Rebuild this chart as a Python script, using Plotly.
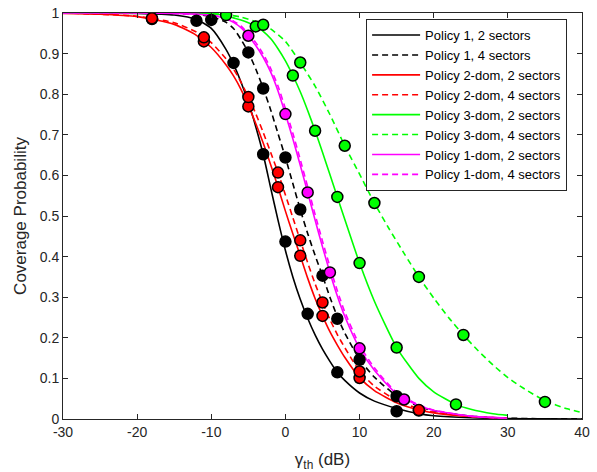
import plotly.graph_objects as go

# ---------------- data ----------------
x_main = [-30, -25, -20, -15, -12, -10, -8, -7, -6, -5, -4, -3, -2, -1, 0, 1, 2, 3, 4, 5,
          6, 7, 8, 10, 12, 15, 18, 20, 25, 30, 35, 40]
p1_2s = [1, 1, 0.999, 0.995, 0.984, 0.962, 0.91, 0.874, 0.83, 0.78, 0.72, 0.652, 0.57, 0.49,
         0.415, 0.35, 0.295, 0.248, 0.207, 0.172, 0.142, 0.115, 0.095, 0.064, 0.044, 0.026,
         0.013, 0.008, 0.003, 0.001, 0.0003, 0.0001]
p1_4s = [1, 1, 1, 0.999, 0.997, 0.991, 0.977, 0.962, 0.935, 0.903, 0.862, 0.815, 0.762, 0.703,
         0.644, 0.58, 0.516, 0.457, 0.403, 0.353, 0.30, 0.252, 0.212, 0.147, 0.103, 0.057,
         0.031, 0.02, 0.007, 0.002, 0.0006, 0.0002]

x_30 = [-30, -25, -20, -15, -12, -10, -8, -7, -6, -5, -4, -3, -2, -1, 0, 1, 2, 3, 4, 5,
        6, 7, 8, 10, 12, 15, 18, 20, 25, 30]
p2_2s = [0.999, 0.997, 0.991, 0.972, 0.945, 0.915, 0.872, 0.845, 0.812, 0.772, 0.728, 0.68,
         0.627, 0.571, 0.512, 0.456, 0.402, 0.347, 0.297, 0.254, 0.215, 0.182, 0.152, 0.102,
         0.07, 0.04, 0.022, 0.015, 0.006, 0.002]
p2_4s = [1, 0.997, 0.992, 0.976, 0.953, 0.927, 0.887, 0.862, 0.83, 0.793, 0.752, 0.706,
         0.657, 0.607, 0.552, 0.496, 0.44, 0.385, 0.333, 0.287, 0.245, 0.208, 0.176, 0.118,
         0.081, 0.046, 0.025, 0.017, 0.006, 0.002]
p1d_2s = [1, 1, 1, 0.999, 0.997, 0.994, 0.986, 0.977, 0.964, 0.944, 0.92, 0.891, 0.855, 0.808,
          0.751, 0.69, 0.625, 0.558, 0.49, 0.424, 0.361, 0.303, 0.253, 0.174, 0.12, 0.062,
          0.033, 0.021, 0.007, 0.002]
p1d_4s = [1, 1, 1, 0.999, 0.997, 0.995, 0.988, 0.98, 0.968, 0.949, 0.927, 0.899, 0.864, 0.82,
          0.764, 0.704, 0.639, 0.572, 0.504, 0.438, 0.375, 0.316, 0.264, 0.182, 0.126, 0.065,
          0.035, 0.022, 0.007, 0.002]

x_g2 = [-30, -20, -15, -12, -10, -8, -7, -6, -5, -4, -3, -2, -1, 0, 1, 2, 3, 4, 5, 6, 7, 8,
        10, 12, 15, 18, 20, 23, 25, 28, 30]
p3_2s = [1, 1, 1, 0.999, 0.998, 0.993, 0.988, 0.983, 0.976, 0.967, 0.955, 0.937, 0.912, 0.882,
         0.846, 0.806, 0.76, 0.71, 0.657, 0.602, 0.547, 0.492, 0.384, 0.29, 0.176, 0.1, 0.067,
         0.036, 0.024, 0.013, 0.009]
x_g4 = [-30, -20, -15, -12, -10, -8, -6, -4, -3, -2, 0, 2, 4, 6, 8, 10, 12, 14, 16, 18, 20,
        22, 24, 26, 28, 30, 32, 35, 38, 40]
p3_4s = [1, 1, 1, 0.999, 0.998, 0.996, 0.99, 0.979, 0.971, 0.961, 0.93, 0.878, 0.82, 0.75,
         0.673, 0.603, 0.532, 0.468, 0.408, 0.35, 0.298, 0.25, 0.207, 0.168, 0.133, 0.102,
         0.077, 0.045, 0.025, 0.016]

# simulation markers
m_p1_2s_x = [-12, -7, -3, 0, 3, 7, 15]
m_p1_2s_y = [0.981, 0.877, 0.652, 0.437, 0.259, 0.115, 0.019]
m_p1_4s_x = [-10, -5, -3, 0, 2, 5, 7, 10, 15]
m_p1_4s_y = [0.983, 0.903, 0.814, 0.644, 0.516, 0.353, 0.247, 0.146, 0.056]
m_p2_2s_x = [-18, -11, -5, -1, 2, 5, 10, 18]
m_p2_2s_y = [0.985, 0.930, 0.770, 0.571, 0.402, 0.254, 0.101, 0.021]
m_p2_4s_x = [-18, -11, -5, -1, 2, 5, 10, 18]
m_p2_4s_y = [0.987, 0.940, 0.793, 0.607, 0.440, 0.287, 0.117, 0.022]
m_p3_2s_x = [-8, -4, 1, 4, 7, 10, 15, 23]
m_p3_2s_y = [0.995, 0.967, 0.846, 0.710, 0.547, 0.384, 0.176, 0.036]
m_p3_4s_x = [-3, 2, 8, 12, 18, 24, 35]
m_p3_4s_y = [0.971, 0.878, 0.673, 0.532, 0.350, 0.207, 0.042]
m_p1d_x = [-5, 0, 3, 6, 10, 16]
m_p1d_y = [0.944, 0.751, 0.558, 0.361, 0.174, 0.048]

names = ["Policy 1, 2 sectors", "Policy 1, 4 sectors", "Policy 2-dom, 2 sectors",
         "Policy 2-dom, 4 sectors", "Policy 3-dom, 2 sectors", "Policy 3-dom, 4 sectors",
         "Policy 1-dom, 2 sectors", "Policy 1-dom, 4 sectors"]

x_tickvals = [-30, -20, -10, 0, 10, 20, 30, 40]
x_ticktext = ["-30", "-20", "-10", "0", "10", "20", "30", "40"]
y_tickvals = [0, 0.1, 0.2, 0.3, 0.4, 0.5, 0.6, 0.7, 0.8, 0.9, 1]
y_ticktext = ["0", "0.1", "0.2", "0.3", "0.4", "0.5", "0.6", "0.7", "0.8", "0.9", "1"]

# ---------------- figure ----------------
BLACK, RED, GREEN, MAG = "#000000", "#ff0000", "#00ff00", "#ff00ff"
DASH = "6px,4px"

fig = go.Figure()
curves = [
    (x_main, p1_2s, BLACK, "solid"),
    (x_main, p1_4s, BLACK, DASH),
    (x_30, p2_2s, RED, "solid"),
    (x_30, p2_4s, RED, DASH),
    (x_g2, p3_2s, GREEN, "solid"),
    (x_g4, p3_4s, GREEN, DASH),
    (x_30, p1d_2s, MAG, "solid"),
    (x_30, p1d_4s, MAG, DASH),
]
for (xs, ys, c, d), nm in zip(curves, names):
    fig.add_trace(go.Scatter(x=xs, y=ys, mode="lines", name=nm,
                             line=dict(color=c, width=1.6, dash=d, shape="spline", smoothing=0.6)))

markers = [
    (m_p1_2s_x, m_p1_2s_y, BLACK),
    (m_p1_4s_x, m_p1_4s_y, BLACK),
    (m_p2_2s_x, m_p2_2s_y, RED),
    (m_p2_4s_x, m_p2_4s_y, RED),
    (m_p3_2s_x, m_p3_2s_y, GREEN),
    (m_p3_4s_x, m_p3_4s_y, GREEN),
    (m_p1d_x, m_p1d_y, MAG),
]
for xs, ys, c in markers:
    fig.add_trace(go.Scatter(x=xs, y=ys, mode="markers", showlegend=False,
                             marker=dict(symbol="circle", size=11, color=c,
                                         line=dict(color="black", width=1.5))))

axis_common = dict(showgrid=False, zeroline=False, showline=True, mirror="ticks",
                   linecolor="#262626", linewidth=1, ticks="inside", ticklen=5,
                   tickcolor="#262626", tickfont=dict(size=14, color="#262626"))

fig.update_layout(
    width=597, height=472,
    margin=dict(l=63, r=15, t=13, b=53, autoexpand=False),
    paper_bgcolor="white", plot_bgcolor="white",
    font=dict(family="Liberation Sans, Arial, sans-serif", size=14, color="#262626"),
    xaxis=dict(range=[-30, 40], tickvals=x_tickvals, ticktext=x_ticktext,
               title=dict(text="γ<sub>th</sub> (dB)", standoff=14, font=dict(size=17)),
               **axis_common),
    yaxis=dict(range=[0, 1], tickvals=y_tickvals, ticktext=y_ticktext,
               title=dict(text="Coverage Probability", standoff=8, font=dict(size=17)),
               **axis_common),
    legend=dict(x=0.584, y=0.985, xanchor="left", yanchor="top",
                bgcolor="white", bordercolor="#262626", borderwidth=1,
                font=dict(size=13, color="black"), tracegroupgap=0, itemwidth=48),
    showlegend=True,
)

fig.write_html("out.html", config={"displayModeBar": False},
               post_script="document.body.style.margin='0';")
